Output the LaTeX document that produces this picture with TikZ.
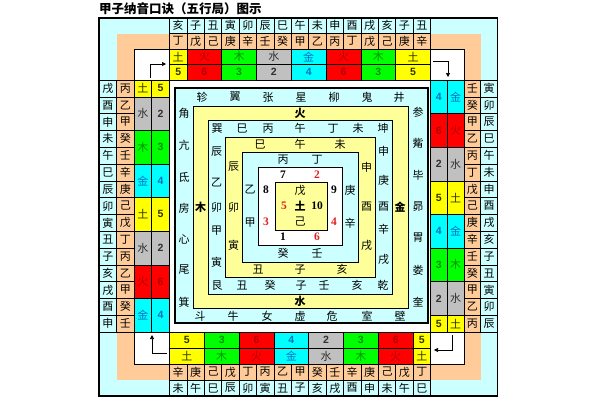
\documentclass[tikz,border=0pt]{standalone}
\usepackage{fontspec}
\setmainfont{Noto Sans CJK SC}
\newfontfamily\numfont{Liberation Sans}
\newfontfamily\hetufont{Liberation Serif}
\usetikzlibrary{arrows.meta}

\definecolor{zhiblue}{HTML}{CCFFFF}
\definecolor{ganpeach}{HTML}{FFCC99}
\definecolor{paleY}{HTML}{FFFF99}
\definecolor{tuF}{HTML}{FFFF00}
\definecolor{tuT}{HTML}{333300}
\definecolor{huoF}{HTML}{FF0000}
\definecolor{huoT}{HTML}{B00000}
\definecolor{muF}{HTML}{00FF00}
\definecolor{muT}{HTML}{009000}
\definecolor{shuiF}{HTML}{C0C0C0}
\definecolor{shuiT}{HTML}{303030}
\definecolor{jinF}{HTML}{00FFFF}
\definecolor{jinT}{HTML}{0070C0}
\definecolor{hetured}{HTML}{E02020}

\begin{document}
\begin{tikzpicture}[x=1pt,y=-1pt,
    cellline/.style={draw=black,line width=0.6pt},
    cjk/.style={inner sep=0pt,font=\fontsize{11}{12}\selectfont},
    wx/.style={inner sep=0pt,font=\bfseries\fontsize{11}{12}\selectfont},
    num/.style={inner sep=0pt,font=\numfont\bfseries\fontsize{10.5}{12}\selectfont},
    hetu/.style={inner sep=0pt,font=\hetufont\bfseries\fontsize{11.5}{12}\selectfont},
    turn/.style={-{Triangle[length=4pt,width=4pt]},line width=0.7pt}]
    \useasboundingbox (0,0) rectangle (600,400);
    \fill[white] (0,0) rectangle (600,400);

    \node[anchor=west,inner sep=0pt,font=\bfseries\fontsize{12.5}{14}\selectfont] (title) at (99,9) {甲子纳音口诀（五行局）图示};

    % corners
    \fill[zhiblue] (99,18) rectangle (169.5,80);
    \fill[ganpeach] (116.5,33.5) rectangle (169.5,80);
    \draw[cellline,fill=white] (134,49) rectangle (169.5,80);
    \fill[zhiblue] (430.5,18) rectangle (497.5,80);
    \fill[ganpeach] (430.5,33.5) rectangle (480.75,80);
    \draw[cellline,fill=white] (430.5,49) rectangle (464,80);
    \fill[zhiblue] (99,332) rectangle (169.5,396);
    \fill[ganpeach] (116.5,332) rectangle (169.5,380);
    \draw[cellline,fill=white] (134,332) rectangle (169.5,364);
    \fill[zhiblue] (430.5,332) rectangle (497.5,396);
    \fill[ganpeach] (430.5,332) rectangle (480.75,380);
    \draw[cellline,fill=white] (430.5,332) rectangle (464,364);

    % top strip
    \foreach \z/\g [count=\i from 0] in {亥/丁,子/戊,丑/己,寅/庚,卯/辛,辰/壬,巳/癸,午/甲,未/乙,申/丙,酉/丁,戌/戊,亥/己,子/庚,丑/辛} {
        \draw[cellline,fill=zhiblue] ({169.5+\i*17.4},18) rectangle ++(17.4,15.5);
        \draw[cellline,fill=ganpeach] ({169.5+\i*17.4},33.5) rectangle ++(17.4,15.5);
        \node[cjk] (top-zhi-\i) at ({169.5+(\i+0.5)*17.4},25.75) {\z};
        \node[cjk] (top-gan-\i) at ({169.5+(\i+0.5)*17.4},41.25) {\g};
    }
    \foreach \from/\ns/\fc/\tc/\el/\val in {0/1/tuF/tuT/土/5,1/2/huoF/huoT/火/6,3/2/muF/muT/木/3,5/2/shuiF/shuiT/水/2,7/2/jinF/jinT/金/4,9/2/huoF/huoT/火/6,11/2/muF/muT/木/3,13/2/tuF/tuT/土/5} {
        \draw[cellline,fill=\fc] ({169.5+\from*17.4},49) rectangle ++({\ns*17.4},15.5);
        \draw[cellline,fill=\fc] ({169.5+\from*17.4},64.5) rectangle ++({\ns*17.4},15.5);
        \node[cjk,text=\tc] (top-wx-\from) at ({169.5+(\from+\ns/2)*17.4},56.75) {\el};
        \node[num,text=\tc] (top-num-\from) at ({169.5+(\from+\ns/2)*17.4},72.25) {\val};
    }

    % right strip
    \foreach \z/\g [count=\j from 0] in {寅/壬,卯/癸,辰/甲,巳/乙,午/丙,未/丁,申/戊,酉/己,戌/庚,亥/辛,子/壬,丑/癸,寅/甲,卯/乙,辰/丙} {
        \draw[cellline,fill=ganpeach] (464,{80+\j*16.8}) rectangle ++(16.75,16.8);
        \draw[cellline,fill=zhiblue] (480.75,{80+\j*16.8}) rectangle ++(16.75,16.8);
        \node[cjk] (right-gan-\j) at (472.4,{80+(\j+0.5)*16.8}) {\g};
        \node[cjk] (right-zhi-\j) at (489.1,{80+(\j+0.5)*16.8}) {\z};
    }
    \foreach \from/\ns/\fc/\tc/\el/\val in {0/2/jinF/jinT/金/4,2/2/huoF/huoT/火/6,4/2/shuiF/shuiT/水/2,6/2/tuF/tuT/土/5,8/2/jinF/jinT/金/4,10/2/muF/muT/木/3,12/2/shuiF/shuiT/水/2,14/1/tuF/tuT/土/5} {
        \draw[cellline,fill=\fc] (430.5,{80+\from*16.8}) rectangle ++(16.75,{\ns*16.8});
        \draw[cellline,fill=\fc] (447.25,{80+\from*16.8}) rectangle ++(16.75,{\ns*16.8});
        \node[num,text=\tc] (right-num-\from) at (438.9,{80+(\from+\ns/2)*16.8}) {\val};
        \node[cjk,text=\tc] (right-wx-\from) at (455.6,{80+(\from+\ns/2)*16.8}) {\el};
    }

    % bottom strip
    \foreach \z/\g [count=\i from 0] in {未/辛,午/庚,巳/己,辰/戊,卯/丁,寅/丙,丑/乙,子/甲,亥/癸,戌/壬,酉/辛,申/庚,未/己,午/戊,巳/丁} {
        \draw[cellline,fill=ganpeach] ({169.5+\i*17.4},364) rectangle ++(17.4,16);
        \draw[cellline,fill=zhiblue] ({169.5+\i*17.4},380) rectangle ++(17.4,16);
        \node[cjk] (bottom-gan-\i) at ({169.5+(\i+0.5)*17.4},372) {\g};
        \node[cjk] (bottom-zhi-\i) at ({169.5+(\i+0.5)*17.4},388) {\z};
    }
    \foreach \from/\ns/\fc/\tc/\el/\val in {0/2/tuF/tuT/土/5,2/2/muF/muT/木/3,4/2/huoF/huoT/火/6,6/2/jinF/jinT/金/4,8/2/shuiF/shuiT/水/2,10/2/muF/muT/木/3,12/2/huoF/huoT/火/6,14/1/tuF/tuT/土/5} {
        \draw[cellline,fill=\fc] ({169.5+\from*17.4},332) rectangle ++({\ns*17.4},16);
        \draw[cellline,fill=\fc] ({169.5+\from*17.4},348) rectangle ++({\ns*17.4},16);
        \node[num,text=\tc] (bottom-num-\from) at ({169.5+(\from+\ns/2)*17.4},340) {\val};
        \node[cjk,text=\tc] (bottom-wx-\from) at ({169.5+(\from+\ns/2)*17.4},356) {\el};
    }

    % left strip
    \foreach \z/\g [count=\j from 0] in {戌/丙,酉/乙,申/甲,未/癸,午/壬,巳/辛,辰/庚,卯/己,寅/戊,丑/丁,子/丙,亥/乙,戌/甲,酉/癸,申/壬} {
        \draw[cellline,fill=zhiblue] (99,{80+\j*16.8}) rectangle ++(17.5,16.8);
        \draw[cellline,fill=ganpeach] (116.5,{80+\j*16.8}) rectangle ++(17.5,16.8);
        \node[cjk] (left-zhi-\j) at (107.75,{80+(\j+0.5)*16.8}) {\z};
        \node[cjk] (left-gan-\j) at (125.25,{80+(\j+0.5)*16.8}) {\g};
    }
    \foreach \from/\ns/\fc/\tc/\el/\val in {0/1/tuF/tuT/土/5,1/2/shuiF/shuiT/水/2,3/2/muF/muT/木/3,5/2/jinF/jinT/金/4,7/2/tuF/tuT/土/5,9/2/shuiF/shuiT/水/2,11/2/huoF/huoT/火/6,13/2/jinF/jinT/金/4} {
        \draw[cellline,fill=\fc] (134,{80+\from*16.8}) rectangle ++(17.5,{\ns*16.8});
        \draw[cellline,fill=\fc] (151.5,{80+\from*16.8}) rectangle ++(18,{\ns*16.8});
        \node[cjk,text=\tc] (left-wx-\from) at (142.75,{80+(\from+\ns/2)*16.8}) {\el};
        \node[num,text=\tc] (left-num-\from) at (160.5,{80+(\from+\ns/2)*16.8}) {\val};
    }

    \draw[line width=1.2pt] (99,18) rectangle (497.5,396);

    % turning arrows in the corners
    \coordinate (tl-a) at (150.5,78);
    \coordinate (tl-b) at (166,64);
    \coordinate (tr-a) at (433,61);
    \coordinate (tr-b) at (448,77);
    \coordinate (br-a) at (452,335);
    \coordinate (br-b) at (434,350);
    \coordinate (bl-a) at (167,353);
    \coordinate (bl-b) at (152,335);
    \draw[turn] (tl-a) |- (tl-b);
    \draw[turn] (tr-a) -| (tr-b);
    \draw[turn] (br-a) |- (br-b);
    \draw[turn] (bl-a) -| (bl-b);

    % inner square, ring by ring
    \draw[line width=1.2pt,fill=zhiblue] (175,88) rectangle (428,323);
    \foreach \xa/\ya/\xb/\yb/\fc in {193/106/408/308/paleY,208/120/392/294/zhiblue,225/137/375/277/paleY,242/152/358/262/zhiblue,258/167/342/245/white,275/182/327/230/paleY}
        \draw[cellline,fill=\fc] (\xa,\ya) rectangle (\xb,\yb);

    % 28 mansions
    \foreach \ch/\x/\y [count=\i] in {轸/202/97,翼/235/97,张/268/97,星/301/97,柳/334/97,鬼/367/97,井/399/97,角/184/113,亢/184/145,氐/184/177,房/184/208,心/184/239,尾/184/270,箕/184/302,参/418/112,觜/418/143,毕/418/175,昴/418/207,胃/418/238,娄/418/270,奎/418/302,斗/200/316,牛/233/316,女/267/316,虚/300/316,危/332/316,室/367/316,壁/400/316}
        \node[cjk] (xiu-\i) at (\x,\y) {\ch};

    % five elements
    \node[wx] (wx-huo) at (300,113) {火};
    \node[wx] (wx-mu) at (200.5,207) {木};
    \node[wx] (wx-jin) at (400,207) {金};
    \node[wx] (wx-shui) at (300,301) {水};

    % 24 mountains
    \foreach \ch/\x/\y [count=\i] in {巽/217/128.5,巳/242/128.5,丙/268/128.5,午/300/128.5,丁/333/128.5,未/358/128.5,坤/383/128.5,辰/216.5/152,乙/216.5/183,卯/216.5/207,甲/216.5/231,寅/216.5/262,艮/217/285.5,丑/242/285.5,癸/270/285.5,子/301/285.5,壬/324/285.5,亥/357/285.5,乾/383/285.5,申/383.5/151,庚/383.5/180,酉/383.5/207,辛/383.5/229,戌/383.5/259}
        \node[cjk] (shan-\i) at (\x,\y) {\ch};

    % branches ring
    \foreach \ch/\x/\y [count=\i] in {巳/260/144.5,午/300/144.5,未/340/144.5,申/366.5/167,酉/366.5/207,戌/366.5/245,亥/342/269.5,子/300/269.5,丑/258/269.5,寅/233.5/245,卯/233.5/207,辰/233.5/167}
        \node[cjk] (zhi-\i) at (\x,\y) {\ch};

    % stems ring
    \foreach \ch/\x/\y [count=\i] in {丙/283/159.5,丁/317/159.5,庚/350/190,辛/350/223,壬/317/253.5,癸/283/253.5,甲/250/223,乙/250/190}
        \node[cjk] (gan-\i) at (\x,\y) {\ch};

    % numbers ring
    \foreach \val/\x/\y/\tc in {7/283/175/black,2/317/175/hetured,9/334/190/black,4/334/222/hetured,6/317/237/hetured,1/283/237/black,3/266/222/hetured,8/266/190/black}
        \node[hetu,text=\tc] (he-\val) at (\x,\y) {\val};

    % centre
    \node[cjk] (c-wu) at (300,190) {戊};
    \node[wx] (c-tu) at (300,206) {土};
    \node[cjk] (c-ji) at (300,222) {己};
    \node[hetu,text=hetured] (he-5) at (284,206) {5};
    \node[hetu] (he-10) at (317,206) {10};
\end{tikzpicture}
\end{document}
